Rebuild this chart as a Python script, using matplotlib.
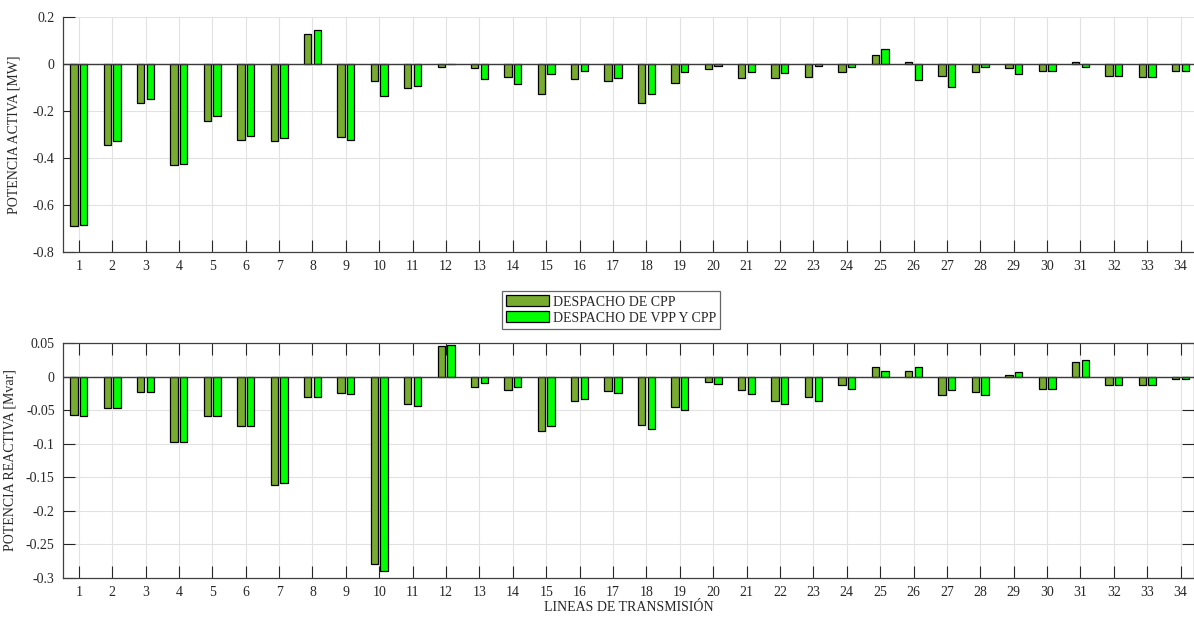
import numpy as np
import matplotlib
matplotlib.use("Agg")
import matplotlib.pyplot as plt
from matplotlib.ticker import FuncFormatter

plt.rcParams['font.family'] = ['Liberation Serif', 'DejaVu Serif']
plt.rcParams['axes.unicode_minus'] = False

lineas = np.arange(1, 35)

# potencia activa [MW]
p_cpp = [-0.688, -0.343, -0.166, -0.428, -0.241, -0.322, -0.328, 0.129, -0.311, -0.071,
         -0.101, -0.014, -0.018, -0.057, -0.128, -0.062, -0.071, -0.167, -0.082, -0.020,
         -0.061, -0.061, -0.054, -0.035, 0.040, 0.010, -0.051, -0.035, -0.018, -0.028,
         0.010, -0.050, -0.055, -0.028]
p_vpp = [-0.686, -0.329, -0.149, -0.426, -0.220, -0.305, -0.316, 0.145, -0.325, -0.135,
         -0.095, -0.002, -0.064, -0.084, -0.041, -0.031, -0.060, -0.129, -0.034, -0.010,
         -0.035, -0.037, -0.007, -0.011, 0.062, -0.067, -0.096, -0.013, -0.041, -0.028,
         -0.011, -0.050, -0.055, -0.028]

# potencia reactiva [Mvar]
q_cpp = [-0.057, -0.047, -0.023, -0.098, -0.059, -0.074, -0.161, -0.031, -0.025, -0.279,
         -0.041, 0.046, -0.016, -0.020, -0.081, -0.037, -0.022, -0.072, -0.046, -0.0085,
         -0.020, -0.036, -0.030, -0.012, 0.014, 0.009, -0.028, -0.023, 0.0025, -0.018,
         0.021, -0.012, -0.012, -0.004]
q_vpp = [-0.058, -0.047, -0.023, -0.098, -0.058, -0.074, -0.158, -0.031, -0.026, -0.289,
         -0.044, 0.047, -0.010, -0.015, -0.074, -0.034, -0.025, -0.078, -0.050, -0.011,
         -0.026, -0.041, -0.036, -0.018, 0.008, 0.014, -0.020, -0.028, 0.0065, -0.018,
         0.025, -0.012, -0.012, -0.004]

c_cpp = '#77AC30'
c_vpp = '#00FF00'
txt = '#262626'
w = 0.22
off = 0.145

fig = plt.figure(figsize=(11.94, 6.17), dpi=100)
ax1 = fig.add_axes([0.0528, 0.5916, 0.9472, 0.3809])
ax2 = fig.add_axes([0.0528, 0.0632, 0.9472, 0.3809])


def etiqueta(v, p):
    v = round(v, 3) + 0.0
    return '%g' % v


def dibujar(ax, a, b):
    ax.bar(lineas - off, a, w, color=c_cpp, edgecolor='black', linewidth=0.9,
           label='DESPACHO DE CPP', zorder=3)
    ax.bar(lineas + off, b, w, color=c_vpp, edgecolor='black', linewidth=0.9,
           label='DESPACHO DE VPP Y CPP', zorder=3)
    ax.axhline(0, color='#3a3a3a', lw=1.0, zorder=4)
    ax.set_xlim(0.53, 34.4)
    ax.set_xticks(lineas)
    ax.grid(True, color='#e2e2e2', lw=0.8, zorder=0)
    ax.tick_params(direction='in', length=8.5, width=0.8, color=txt,
                   labelcolor=txt, labelsize=10, pad=6)
    for s in ax.spines.values():
        s.set_color('#404040')
        s.set_linewidth(0.9)
    ax.yaxis.set_major_formatter(FuncFormatter(etiqueta))


dibujar(ax1, p_cpp, p_vpp)
ax1.set_ylim(-0.8, 0.2)
ax1.set_yticks(np.arange(-0.8, 0.21, 0.2))
ax1.spines['top'].set_visible(False)
ax1.spines['right'].set_visible(False)
ax1.set_ylabel('POTENCIA ACTIVA [MW]', fontsize=10, color=txt)
ax1.yaxis.set_label_coords(-0.038, 0.5)

dibujar(ax2, q_cpp, q_vpp)
ax2.set_ylim(-0.3, 0.05)
ax2.set_yticks(np.arange(-0.3, 0.051, 0.05))
ax2.tick_params(top=True, right=True)
ax2.set_ylabel('POTENCIA REACTIVA [Mvar]', fontsize=10, color=txt)
ax2.yaxis.set_label_coords(-0.0415, 0.5)
ax2.set_xlabel('LINEAS DE TRANSMISIÓN', fontsize=10, color=txt, labelpad=1)

h, l = ax1.get_legend_handles_labels()
leg = fig.legend(h, l, loc='center', bbox_to_anchor=(611 / 1194, 1 - 310 / 617),
                 fontsize=10, frameon=True, fancybox=False, handlelength=3.1,
                 handleheight=0.85, handletextpad=0.3, borderpad=0.3,
                 labelspacing=0.2, borderaxespad=0)
leg.get_frame().set_edgecolor('#404040')
leg.get_frame().set_linewidth(0.9)
for t in leg.get_texts():
    t.set_color(txt)

fig.savefig('out.png', dpi=100)
